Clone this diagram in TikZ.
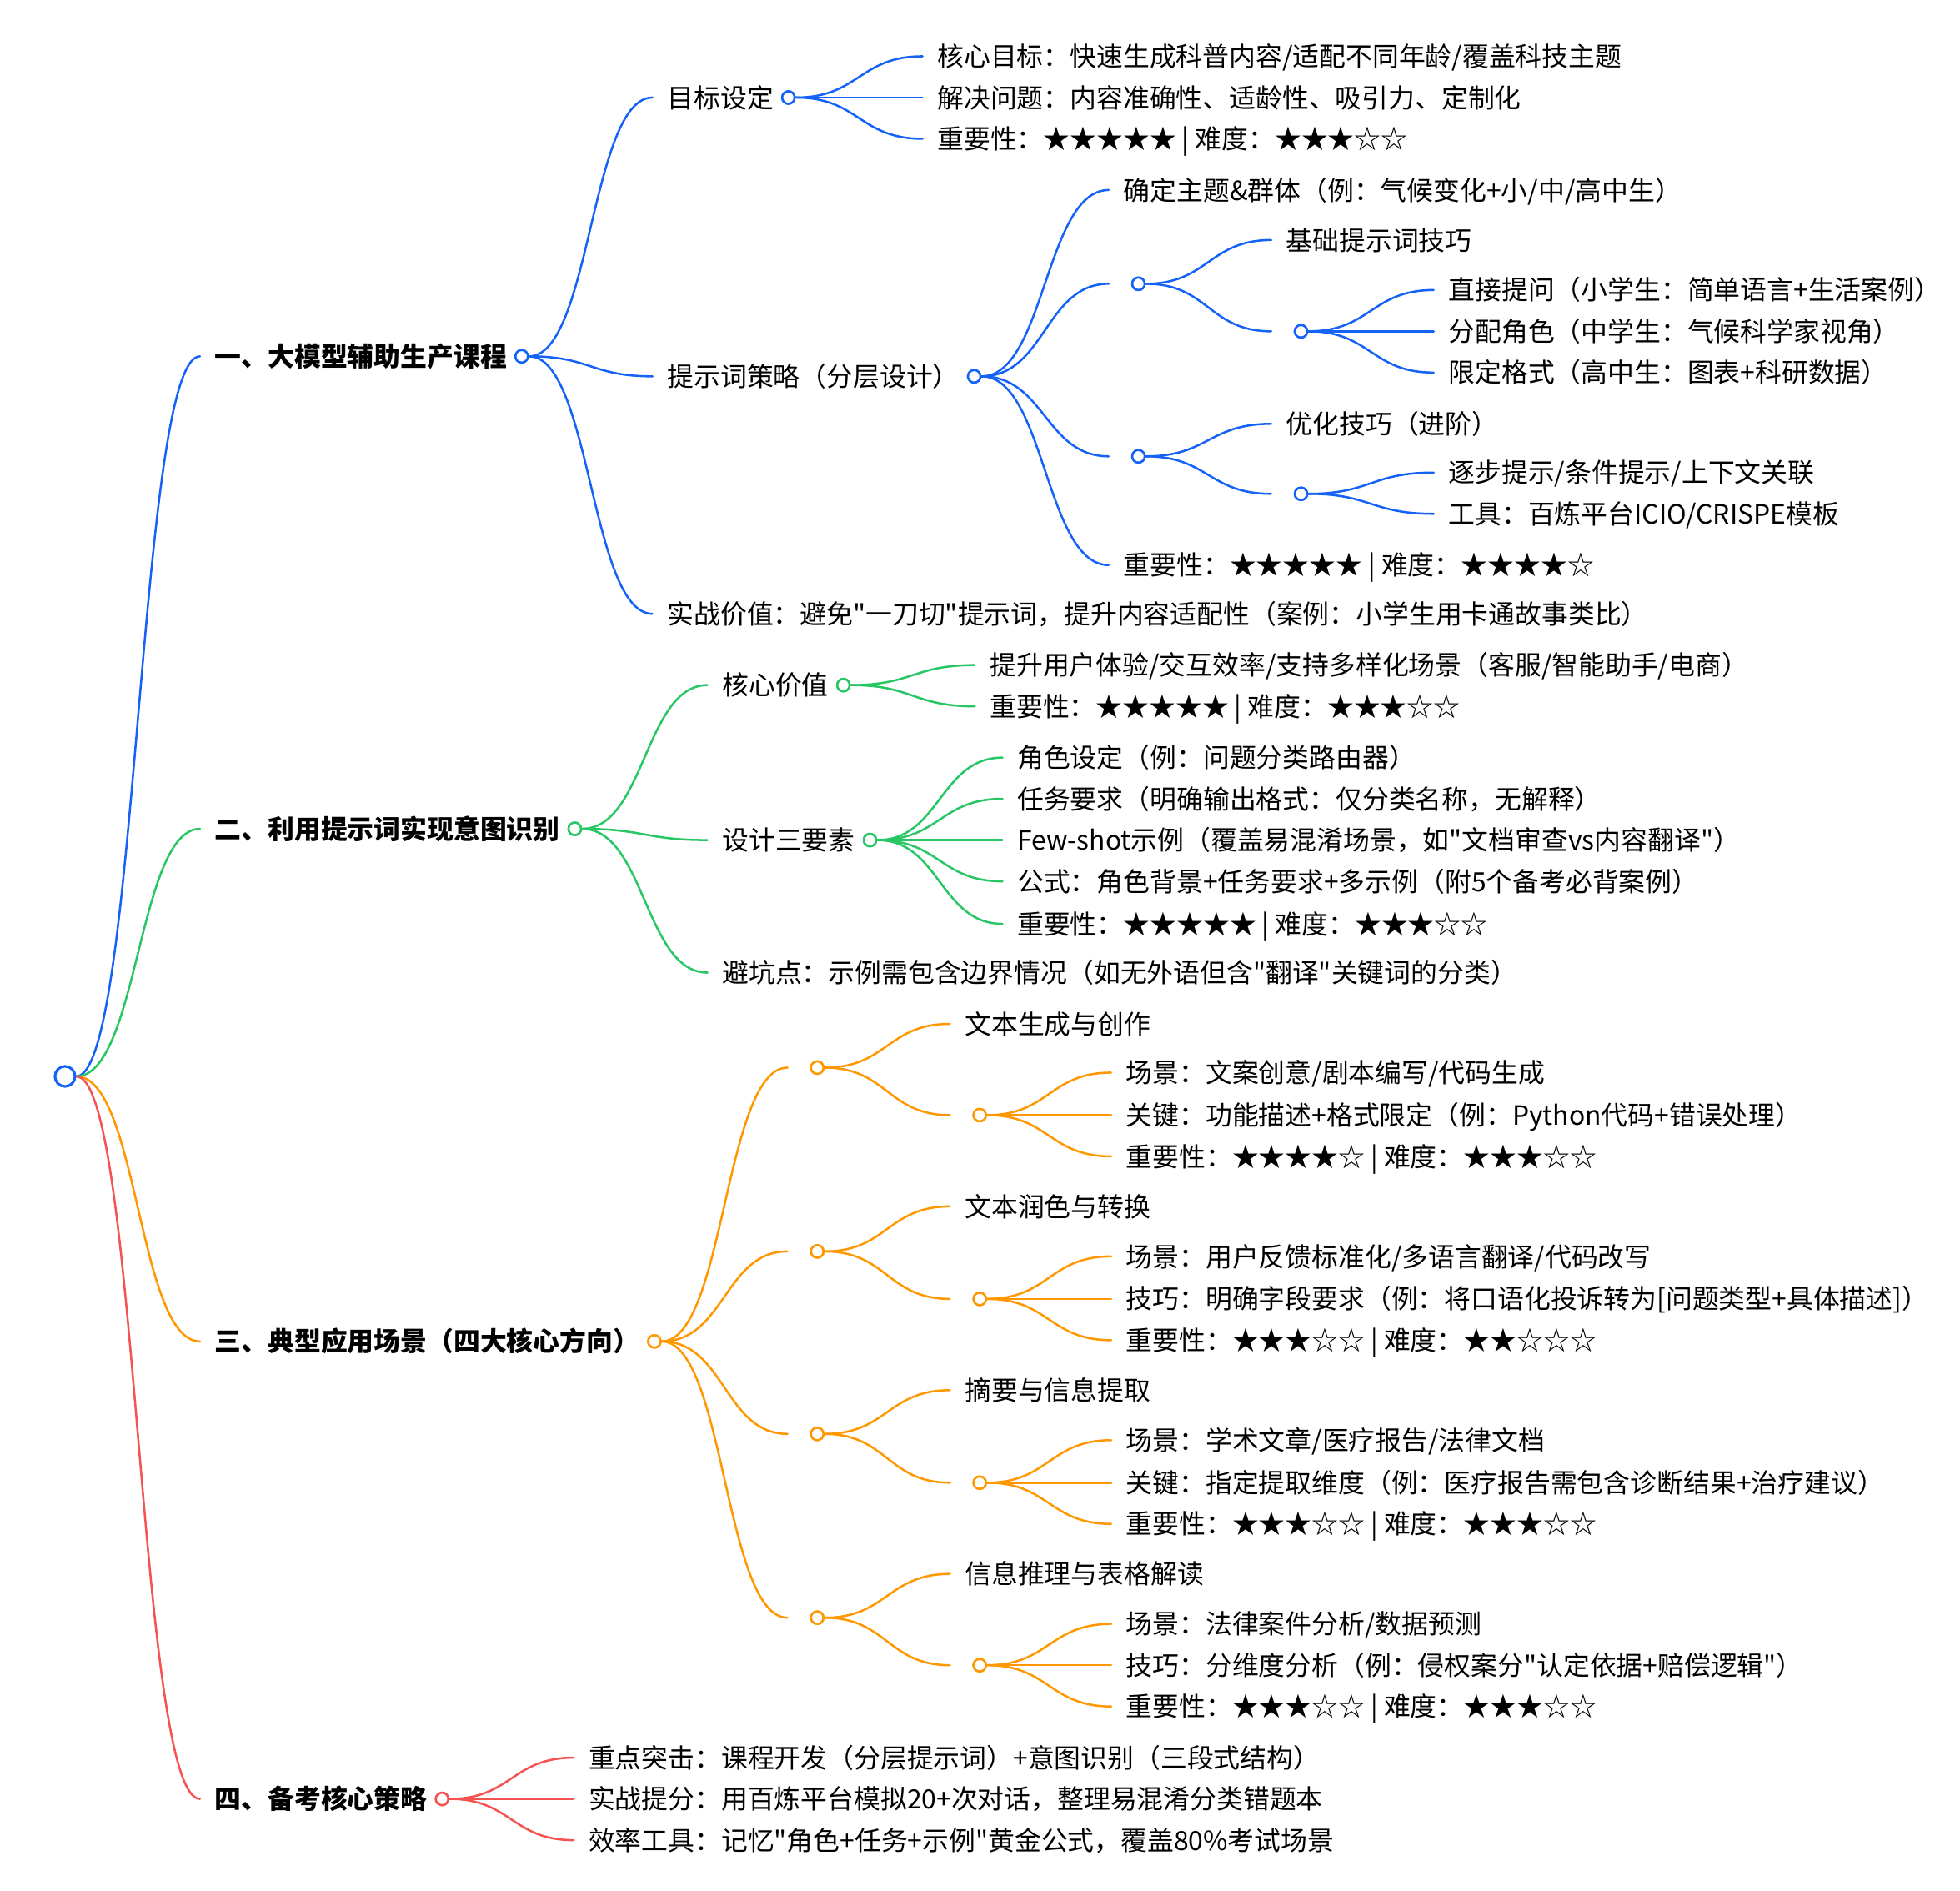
\documentclass[tikz,border=0pt]{standalone}
\usepackage{fontspec}
\setmainfont{Noto Sans CJK SC}[Ligatures=TeXOff]
\usetikzlibrary{calc}
\definecolor{cb}{RGB}{20,98,246}
\definecolor{cg}{RGB}{40,198,100}
\definecolor{co}{RGB}{255,152,0}
\definecolor{cr}{RGB}{245,82,82}
\newcommand{\mmfont}{\fontsize{15.1pt}{18pt}\selectfont}
\begin{document}
\begin{tikzpicture}[x=0.025cm,y=-0.025cm,
  txt/.style={anchor=west, inner xsep=0.29cm, inner ysep=0pt, text height=13.3pt, text depth=1.8pt, font=\mmfont},
  hd/.style={txt, font=\mmfont\bfseries},
  dot/.style={circle, draw=#1, fill=white, line width=1.2pt, inner sep=0pt, minimum size=0.25cm},
  rdot/.style={circle, draw=#1, fill=white, line width=1.4pt, inner sep=0pt, minimum size=0.4cm},
  lk/.style={draw=#1, line width=1.2pt, line cap=round},
  mm/.style={to path={let \p1=(\tikztostart), \p2=(\tikztotarget) in .. controls ({(\x1+\x2)/2},\y1) and ({(\x1+\x2)/2},\y2) .. (\tikztotarget)}}
]
\useasboundingbox (0,0) rectangle (1568,1512.6);

% root
\node[rdot=cb] (root) at (52,861) {};

% level 1
\node[hd] (A) at (160,285) {一、大模型辅助生产课程};
\node[dot=cb] (Ac) at (A.east) {};
\node[hd] (B) at (160,663) {二、利用提示词实现意图识别};
\node[dot=cg] (Bc) at (B.east) {};
\node[hd] (C) at (160,1073) {三、典型应用场景（四大核心方向）};
\node[dot=co] (Cc) at (C.east) {};
\node[hd] (D) at (160,1439) {四、备考核心策略};
\node[dot=cr] (Dc) at (D.east) {};

% A branch
\node[txt] (A1) at (522,78) {目标设定};
\node[dot=cb] (A1c) at (A1.east) {};
\node[txt] (A11) at (738,45) {核心目标：快速生成科普内容/适配不同年龄/覆盖科技主题};
\node[txt] (A12) at (738,78) {解决问题：内容准确性、适龄性、吸引力、定制化};
\node[txt] (A13) at (738,111) {重要性：★★★★★ | 难度：★★★☆☆};
\node[txt] (A2) at (522,301) {提示词策略（分层设计）};
\node[dot=cb] (A2c) at (A2.east) {};
\node[txt] (A21) at (887,152) {确定主题\&群体（例：气候变化+小/中/高中生）};
\node[txt] (A22) at (887,227) {};
\node[dot=cb] (A22c) at (A22.east) {};
\node[txt] (A221) at (1017,192) {基础提示词技巧};
\node[txt] (A222) at (1017,265) {};
\node[dot=cb] (A222c) at (A222.east) {};
\node[txt] (A2221) at (1147,232) {直接提问（小学生：简单语言+生活案例）};
\node[txt] (A2222) at (1147,265) {分配角色（中学生：气候科学家视角）};
\node[txt] (A2223) at (1147,298) {限定格式（高中生：图表+科研数据）};
\node[txt] (A23) at (887,365) {};
\node[dot=cb] (A23c) at (A23.east) {};
\node[txt] (A231) at (1017,339) {优化技巧（进阶）};
\node[txt] (A232) at (1017,395) {};
\node[dot=cb] (A232c) at (A232.east) {};
\node[txt] (A2321) at (1147,378) {逐步提示/条件提示/上下文关联};
\node[txt] (A2322) at (1147,411) {工具：百炼平台ICIO/CRISPE模板};
\node[txt] (A24) at (887,452) {重要性：★★★★★ | 难度：★★★★☆};
\node[txt] (A3) at (522,491) {实战价值：避免"一刀切"提示词，提升内容适配性（案例：小学生用卡通故事类比）};

% B branch
\node[txt] (B1) at (566,548) {核心价值};
\node[dot=cg] (B1c) at (B1.east) {};
\node[txt] (B11) at (780,532) {提升用户体验/交互效率/支持多样化场景（客服/智能助手/电商）};
\node[txt] (B12) at (780,565) {重要性：★★★★★ | 难度：★★★☆☆};
\node[txt] (B2) at (566,672) {设计三要素};
\node[dot=cg] (B2c) at (B2.east) {};
\node[txt] (B21) at (802,606) {角色设定（例：问题分类路由器）};
\node[txt] (B22) at (802,639) {任务要求（明确输出格式：仅分类名称，无解释）};
\node[txt] (B23) at (802,672) {Few-shot示例（覆盖易混淆场景，如"文档审查vs内容翻译"）};
\node[txt] (B24) at (802,705) {公式：角色背景+任务要求+多示例（附5个备考必背案例）};
\node[txt] (B25) at (802,739) {重要性：★★★★★ | 难度：★★★☆☆};
\node[txt] (B3) at (566,778) {避坑点：示例需包含边界情况（如无外语但含"翻译"关键词的分类）};

% C branch
\node[txt] (C1) at (630,854) {};
\node[dot=co] (C1c) at (C1.east) {};
\node[txt] (C11) at (760,819) {文本生成与创作};
\node[txt] (C12) at (760,892) {};
\node[dot=co] (C12c) at (C12.east) {};
\node[txt] (C121) at (889,858) {场景：文案创意/剧本编写/代码生成};
\node[txt] (C122) at (889,892) {关键：功能描述+格式限定（例：Python代码+错误处理）};
\node[txt] (C123) at (889,925) {重要性：★★★★☆ | 难度：★★★☆☆};

\node[txt] (C2) at (630,1001) {};
\node[dot=co] (C2c) at (C2.east) {};
\node[txt] (C21) at (760,965) {文本润色与转换};
\node[txt] (C22) at (760,1039) {};
\node[dot=co] (C22c) at (C22.east) {};
\node[txt] (C221) at (889,1005) {场景：用户反馈标准化/多语言翻译/代码改写};
\node[txt] (C222) at (889,1039) {技巧：明确字段要求（例：将口语化投诉转为[问题类型+具体描述]）};
\node[txt] (C223) at (889,1072) {重要性：★★★☆☆ | 难度：★★☆☆☆};

\node[txt] (C3) at (630,1147) {};
\node[dot=co] (C3c) at (C3.east) {};
\node[txt] (C31) at (760,1112) {摘要与信息提取};
\node[txt] (C32) at (760,1186) {};
\node[dot=co] (C32c) at (C32.east) {};
\node[txt] (C321) at (889,1152) {场景：学术文章/医疗报告/法律文档};
\node[txt] (C322) at (889,1186) {关键：指定提取维度（例：医疗报告需包含诊断结果+治疗建议）};
\node[txt] (C323) at (889,1219) {重要性：★★★☆☆ | 难度：★★★☆☆};

\node[txt] (C4) at (630,1294) {};
\node[dot=co] (C4c) at (C4.east) {};
\node[txt] (C41) at (760,1259) {信息推理与表格解读};
\node[txt] (C42) at (760,1332) {};
\node[dot=co] (C42c) at (C42.east) {};
\node[txt] (C421) at (889,1299) {场景：法律案件分析/数据预测};
\node[txt] (C422) at (889,1332) {技巧：分维度分析（例：侵权案分"认定依据+赔偿逻辑"）};
\node[txt] (C423) at (889,1365) {重要性：★★★☆☆ | 难度：★★★☆☆};

% D branch
\node[txt] (D1) at (459,1406) {重点突击：课程开发（分层提示词）+意图识别（三段式结构）};
\node[txt] (D2) at (459,1439) {实战提分：用百炼平台模拟20+次对话，整理易混淆分类错题本};
\node[txt] (D3) at (459,1472) {效率工具：记忆"角色+任务+示例"黄金公式，覆盖80\%考试场景};

% links
\draw[lk=cb] (root.east) to[mm] (A.west);
\draw[lk=cg] (root.east) to[mm] (B.west);
\draw[lk=co] (root.east) to[mm] (C.west);
\draw[lk=cr] (root.east) to[mm] (D.west);

\foreach \p/\c in {Ac/A1, Ac/A2, Ac/A3, A1c/A11, A1c/A12, A1c/A13,
  A2c/A21, A2c/A22, A2c/A23, A2c/A24, A22c/A221, A22c/A222,
  A222c/A2221, A222c/A2222, A222c/A2223, A23c/A231, A23c/A232,
  A232c/A2321, A232c/A2322}
  \draw[lk=cb] (\p.east) to[mm] (\c.west);

\foreach \p/\c in {Bc/B1, Bc/B2, Bc/B3, B1c/B11, B1c/B12,
  B2c/B21, B2c/B22, B2c/B23, B2c/B24, B2c/B25}
  \draw[lk=cg] (\p.east) to[mm] (\c.west);

\foreach \p/\c in {Cc/C1, Cc/C2, Cc/C3, Cc/C4,
  C1c/C11, C1c/C12, C12c/C121, C12c/C122, C12c/C123,
  C2c/C21, C2c/C22, C22c/C221, C22c/C222, C22c/C223,
  C3c/C31, C3c/C32, C32c/C321, C32c/C322, C32c/C323,
  C4c/C41, C4c/C42, C42c/C421, C42c/C422, C42c/C423}
  \draw[lk=co] (\p.east) to[mm] (\c.west);

\foreach \p/\c in {Dc/D1, Dc/D2, Dc/D3}
  \draw[lk=cr] (\p.east) to[mm] (\c.west);

% redraw dots on top
\foreach \n/\k in {Ac/cb, A1c/cb, A2c/cb, A22c/cb, A222c/cb, A23c/cb, A232c/cb,
  Bc/cg, B1c/cg, B2c/cg, Cc/co, C1c/co, C12c/co, C2c/co, C22c/co, C3c/co, C32c/co, C4c/co, C42c/co, Dc/cr}
  \draw[draw=\k, fill=white, line width=1.2pt] (\n.center) circle[radius=0.125cm];
\draw[draw=cb, fill=white, line width=1.4pt] (root.center) circle[radius=0.2cm];
\end{tikzpicture}
\end{document}
